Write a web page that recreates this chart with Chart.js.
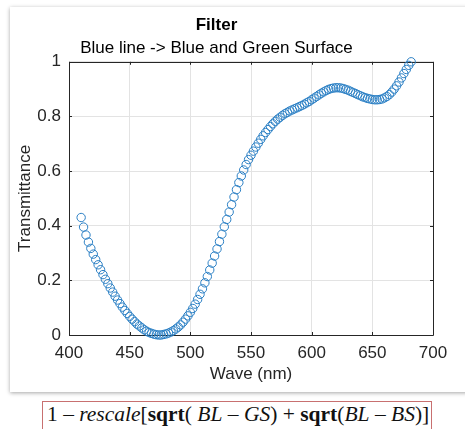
<!DOCTYPE html>
<html>
<head>
<meta charset="utf-8">
<script src="https://cdn.jsdelivr.net/npm/chart.js@4/dist/chart.umd.min.js"></script>
<style>
  html, body { margin: 0; padding: 0; background: #ffffff; }
  #root { position: relative; width: 465px; height: 429px; overflow: hidden; background: #ffffff; }
  #panel { position: absolute; left: 10px; top: 7px; width: 470px; height: 385px; background: #ffffff;
           box-shadow: 0 1px 4px rgba(0,0,0,0.35); }
  #wrap { position: absolute; left: 0; top: 0; width: 465px; height: 395px; }
  #formula { position: absolute; left: 42px; top: 401px; width: 390px; height: 40px;
             border: 1px solid #c87070; box-sizing: border-box;
             font-family: 'Liberation Serif', 'Times New Roman', serif; font-size: 21.5px; color: #111;
             padding-left: 4px; line-height: 24px; padding-top: 0px; white-space: nowrap; }
</style>
</head>
<body>
<div id="root">
  <div id="panel"></div>
  <div id="wrap"><canvas id="c" width="465" height="395"></canvas></div>
  <div id="formula">1 – <i>rescale</i>[<b>sqrt</b>( <i>BL</i> – <i>GS</i>) + <b>sqrt</b>(<i>BL</i> – <i>BS</i>)]</div>
</div>
<script>
const chartTitle = 'Filter';
const chartSubtitle = 'Blue line -> Blue and Green Surface';
const xAxisTitle = 'Wave (nm)';
const yAxisTitle = 'Transmittance';
const xTicks = [400, 450, 500, 550, 600, 650, 700];
const xTickLabels = ['400', '450', '500', '550', '600', '650', '700'];
const yTicks = [0, 0.2, 0.4, 0.6, 0.8, 1];
const yTickLabels = ['0', '0.2', '0.4', '0.6', '0.8', '1'];

const wave = [
  410, 412, 414, 416, 418, 420, 422, 424, 426, 428,
  430, 432, 434, 436, 438, 440, 442, 444, 446, 448,
  450, 452, 454, 456, 458, 460, 462, 464, 466, 468,
  470, 472, 474, 476, 478, 480, 482, 484, 486, 488,
  490, 492, 494, 496, 498, 500, 502, 504, 506, 508,
  510, 512, 514, 516, 518, 520, 522, 524, 526, 528,
  530, 532, 534, 536, 538, 540, 542, 544, 546, 548,
  550, 552, 554, 556, 558, 560, 562, 564, 566, 568,
  570, 572, 574, 576, 578, 580, 582, 584, 586, 588,
  590, 592, 594, 596, 598, 600, 602, 604, 606, 608,
  610, 612, 614, 616, 618, 620, 622, 624, 626, 628,
  630, 632, 634, 636, 638, 640, 642, 644, 646, 648,
  650, 652, 654, 656, 658, 660, 662, 664, 666, 668,
  670, 672, 674, 676, 678, 680, 682
];
const transmittance = [
  0.430, 0.395, 0.366, 0.340, 0.317, 0.296, 0.276, 0.257, 0.239, 0.221,
  0.204, 0.188, 0.172, 0.157, 0.142, 0.128, 0.115, 0.102, 0.090, 0.079,
  0.068, 0.058, 0.049, 0.040, 0.033, 0.026, 0.019, 0.014, 0.009, 0.006,
  0.003, 0.001, 0.000, 0.000, 0.002, 0.004, 0.007, 0.011, 0.016, 0.022,
  0.029, 0.037, 0.047, 0.058, 0.070, 0.083, 0.097, 0.113, 0.130, 0.149,
  0.169, 0.191, 0.214, 0.238, 0.263, 0.289, 0.315, 0.342, 0.369, 0.396,
  0.423, 0.450, 0.477, 0.505, 0.532, 0.558, 0.582, 0.604, 0.624, 0.642,
  0.658, 0.673, 0.688, 0.702, 0.716, 0.729, 0.741, 0.752, 0.763, 0.773,
  0.782, 0.790, 0.797, 0.804, 0.810, 0.815, 0.820, 0.824, 0.828, 0.832,
  0.836, 0.840, 0.845, 0.850, 0.855, 0.861, 0.867, 0.873, 0.879, 0.885,
  0.890, 0.895, 0.899, 0.902, 0.904, 0.905, 0.905, 0.904, 0.902, 0.899,
  0.896, 0.892, 0.888, 0.884, 0.880, 0.876, 0.872, 0.869, 0.866, 0.864,
  0.862, 0.861, 0.861, 0.862, 0.864, 0.868, 0.873, 0.880, 0.889, 0.900,
  0.912, 0.926, 0.941, 0.957, 0.972, 0.987, 1.000
];

const points = wave.map((w, i) => ({ x: w, y: transmittance[i] }));

const axisColor = '#262626';
const gridColor = '#e3e3e3';
const fontFamily = "'Liberation Sans', Arial, Helvetica, sans-serif";
const fs = 17;

const framePlugin = {
  id: 'frame',
  beforeDatasetsDraw(chart) {
    const { ctx, chartArea: a, scales } = chart;
    ctx.save();
    ctx.strokeStyle = axisColor;
    ctx.lineWidth = 1;
    ctx.beginPath();
    ctx.rect(Math.round(a.left) + 0.5, Math.round(a.top) + 0.5,
             Math.round(a.right - a.left), Math.round(a.bottom - a.top));
    ctx.stroke();
    const tl = 3;
    ctx.beginPath();
    scales.x.ticks.forEach(t => {
      const px = Math.round(scales.x.getPixelForValue(t.value)) + 0.5;
      ctx.moveTo(px, a.bottom); ctx.lineTo(px, a.bottom - tl);
      ctx.moveTo(px, a.top); ctx.lineTo(px, a.top + tl);
    });
    scales.y.ticks.forEach(t => {
      const py = Math.round(scales.y.getPixelForValue(t.value)) + 0.5;
      ctx.moveTo(a.left, py); ctx.lineTo(a.left + tl, py);
      ctx.moveTo(a.right, py); ctx.lineTo(a.right - tl, py);
    });
    ctx.stroke();
    ctx.restore();
  }
};

new Chart(document.getElementById('c'), {
  type: 'scatter',
  data: {
    datasets: [{
      data: points,
      showLine: false,
      pointStyle: 'circle',
      pointRadius: 4.2,
      pointHoverRadius: 4.2,
      pointBorderWidth: 1,
      pointBorderColor: '#2a7fc4',
      pointBackgroundColor: 'rgba(0,0,0,0)',
      clip: false
    }]
  },
  options: {
    responsive: false,
    animation: false,
    events: [],
    layout: { padding: { left: 0, right: 32, top: 0, bottom: 0 } },
    plugins: {
      legend: { display: false },
      tooltip: { enabled: false },
      title: {
        display: true, text: chartTitle, color: '#000',
        font: { family: fontFamily, size: fs, weight: 'bold', lineHeight: 1.2 },
        padding: { top: 15, bottom: 2 }
      },
      subtitle: {
        display: true, text: chartSubtitle, color: '#000',
        font: { family: fontFamily, size: fs, weight: 'normal', lineHeight: 1.2 },
        padding: { top: 1, bottom: 3 }
      }
    },
    scales: {
      x: {
        type: 'linear', min: 400, max: 700,
        afterBuildTicks: s => { s.ticks = xTicks.map(v => ({ value: v })); },
        afterFit: s => { s.height = 60; },
        grid: { color: gridColor, drawTicks: false, tickLength: 0 },
        border: { display: false },
        ticks: { color: axisColor, padding: 8, maxRotation: 0,
                 font: { family: fontFamily, size: fs },
                 callback: (v) => xTickLabels[xTicks.indexOf(v)] },
        title: { display: true, text: xAxisTitle, color: axisColor,
                 font: { family: fontFamily, size: fs, lineHeight: 1.2 },
                 padding: { top: 0, bottom: 10 } }
      },
      y: {
        type: 'linear', min: 0, max: 1,
        afterBuildTicks: s => { s.ticks = yTicks.map(v => ({ value: v })); },
        afterFit: s => { s.width = 69; },
        grid: { color: gridColor, drawTicks: false, tickLength: 0 },
        border: { display: false },
        ticks: { color: axisColor, padding: 8,
                 font: { family: fontFamily, size: fs },
                 callback: (v) => yTickLabels[yTicks.indexOf(v)] },
        title: { display: true, text: yAxisTitle, color: axisColor,
                 font: { family: fontFamily, size: fs, lineHeight: 1.2 },
                 padding: { top: 15, bottom: 0 } }
      }
    }
  },
  plugins: [framePlugin]
});
</script>
</body>
</html>
